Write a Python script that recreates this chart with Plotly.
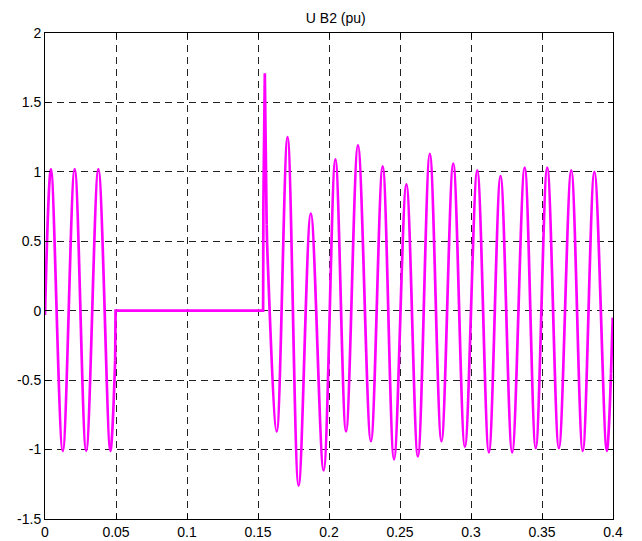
import plotly.graph_objects as go

# ---- data (time in s, voltage in pu) ----
# pre-fault wave (extremes)
t_pre = [0.0, 0.0042, 0.0125, 0.0209, 0.0290, 0.0376, 0.0460, 0.0494]
v_pre = [-0.03, 1.02, -1.01, 1.02, -1.01, 1.02, -1.01, -0.36]

# fault period (zero) and re-energising spike
t_fault = [0.0494, 0.0497, 0.1536, 0.1538, 0.1548, 0.1553, 0.1557, 0.1561]
v_fault = [-0.36, 0.0, 0.0, 0.78, 1.71, 1.13, 0.68, 0.62]

# post-fault wave (extremes)
t_post = [0.1561, 0.1568, 0.1632, 0.1708, 0.1786, 0.1872, 0.1962, 0.2045,
          0.2120, 0.2204, 0.2295, 0.2378, 0.2458, 0.2545, 0.2626, 0.2710,
          0.2792, 0.2875, 0.2957, 0.3044, 0.3126, 0.3208, 0.3290, 0.3378,
          0.3456, 0.3537, 0.3619, 0.3706, 0.3787, 0.3869, 0.3956, 0.3986]
v_post = [0.62, 0.37, -0.87, 1.25, -1.26, 0.70, -1.15, 1.09,
          -0.87, 1.19, -0.94, 1.04, -1.07, 0.91, -1.05, 1.13,
          -0.94, 1.06, -0.98, 1.01, -1.02, 0.97, -1.02, 1.03,
          -0.99, 1.03, -0.99, 1.01, -1.01, 1.00, -1.01, -0.45]

t_end = [0.3986, 0.3998]
v_end = [-0.45, -0.05]

x_ticks = [0, 0.05, 0.1, 0.15, 0.2, 0.25, 0.3, 0.35, 0.4]
x_labels = ["0", "0.05", "0.1", "0.15", "0.2", "0.25", "0.3", "0.35", "0.4"]
y_ticks = [-1.5, -1, -0.5, 0, 0.5, 1, 1.5, 2]
y_labels = ["-1.5", "-1", "-0.5", "0", "0.5", "1", "1.5", "2"]

COLOR = "#FF00FF"
LW = 2.7

fig = go.Figure()
fig.add_trace(go.Scatter(x=t_pre, y=v_pre, mode="lines",
                         line=dict(color=COLOR, width=LW, shape="spline", smoothing=1),
                         showlegend=False, hoverinfo="skip"))
fig.add_trace(go.Scatter(x=t_fault, y=v_fault, mode="lines",
                         line=dict(color=COLOR, width=LW), showlegend=False, hoverinfo="skip"))
fig.add_trace(go.Scatter(x=t_post, y=v_post, mode="lines",
                         line=dict(color=COLOR, width=LW, shape="spline", smoothing=1),
                         showlegend=False, hoverinfo="skip"))
fig.add_trace(go.Scatter(x=t_end, y=v_end, mode="lines",
                         line=dict(color=COLOR, width=LW), showlegend=False, hoverinfo="skip"))

axis_common = dict(
    showline=True, linecolor="black", linewidth=1, mirror="ticks",
    ticks="inside", ticklen=5, tickcolor="black", tickwidth=1,
    showgrid=True, gridcolor="#222222", gridwidth=1, griddash="7px,5px",
    zeroline=False, automargin=False,
    tickfont=dict(family="Liberation Sans, Arial", size=14, color="black"),
)

fig.update_xaxes(range=[0, 0.4], tickvals=x_ticks, ticktext=x_labels, **axis_common)
fig.update_yaxes(range=[-1.5, 2], tickvals=y_ticks, ticktext=y_labels, **axis_common)

# page body adds an 8px offset; figure sized to fit the 642x541 window
fig.update_layout(
    width=634, height=533,
    margin=dict(l=37, r=29, t=25, b=22, pad=0, autoexpand=False),
    paper_bgcolor="white", plot_bgcolor="white",
    title=dict(text="U B2 (pu)", x=0.517, xref="container", xanchor="center",
               y=0.981, yref="container", yanchor="middle",
               font=dict(family="Liberation Sans, Arial", size=14, color="black")),
)

fig.write_html("out.html")
